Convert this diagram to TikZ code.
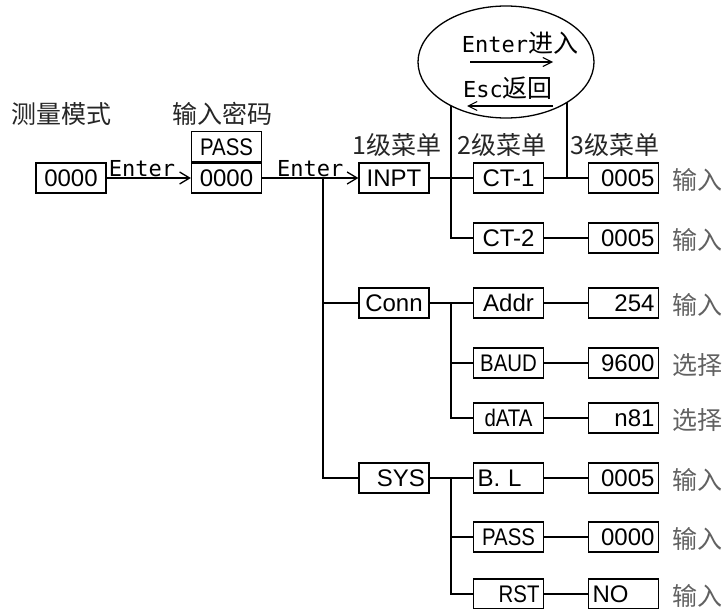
\documentclass[tikz,border=0pt]{standalone}
\usepackage{fontspec}
\setmainfont{Liberation Sans}
\newfontfamily\cjk{Noto Sans CJK SC}
\newfontfamily\monof{DejaVu Sans Mono}
\newfontfamily\boxf{Liberation Sans}
\newfontfamily\boxn[FakeStretch=0.85]{Liberation Sans}
\usetikzlibrary{arrows.meta,shapes.geometric}
\tikzset{
  bx/.style={draw, line width=1.3pt, text width=62pt, inner xsep=4pt, inner ysep=6.4pt,
    text height=17.2pt, text depth=0pt, font=\boxf\fontsize{24}{24}\selectfont},
  narrow/.style={font=\boxn\fontsize{24}{24}\selectfont},
  bxl/.style={bx, align=left},
  bxc/.style={bx, align=center},
  bxr/.style={bx, align=right},
  hdr/.style={font=\cjk\fontsize{25}{27}\selectfont, text=black!85, inner sep=0pt},
  note/.style={font=\cjk\fontsize{25}{27}\selectfont, text=black!62, inner sep=0pt},
  lbl/.style={font=\monof\fontsize{22}{24}\selectfont, inner sep=1pt},
  conn/.style={line width=1.3pt},
  arr/.style={line width=1.3pt, -{Straight Barb[length=10pt,width=12pt,line width=1.3pt]}},
  arrs/.style={line width=1.1pt, -{Straight Barb[length=9pt,width=9pt,line width=1.1pt]}}
}
\begin{document}
\begin{tikzpicture}[x=1pt,y=-1pt]
\useasboundingbox (0,0) rectangle (728,608);

% headers
\node[hdr, anchor=west] (h0) at (11,114) {测量模式};
\node[hdr, anchor=west] (h1) at (172,114) {输入密码};
\node[hdr, anchor=west] (l1) at (352,145) {1级菜单};
\node[hdr, anchor=west] (l2) at (457,145) {2级菜单};
\node[hdr, anchor=west] (l3) at (570,145) {3级菜单};

% left boxes
\node[bxc] (b0) at (71,178) {0000};
\node[bxc] (pw) at (226.5,178) {0000};
\node[bxc, narrow, anchor=south] (ps) at (pw.north) {PASS};

% level 1
\node[bxc] (inpt) at (394,178) {INPT};
\node[bxc] (cn) at (394,303) {Conn};
\node[bxr] (sys) at (394,478) {SYS};

% level 2
\node[bxc] (ct1) at (508.5,178) {CT-1};
\node[bxc] (ct2) at (508.5,238) {CT-2};
\node[bxc] (addr) at (508.5,303) {Addr};
\node[bxc, narrow] (baud) at (508.5,363) {BAUD};
\node[bxc, narrow] (data) at (508.5,418) {dATA};
\node[bxl] (bl) at (508.5,478) {B. L};
\node[bxc, narrow] (pas) at (508.5,537) {PASS};
\node[bxr, narrow] (rst) at (508.5,594) {RST};

% level 3
\node[bxr] (v1) at (623.5,178) {0005};
\node[bxr] (v2) at (623.5,238) {0005};
\node[bxr] (v3) at (623.5,303) {254};
\node[bxr] (v4) at (623.5,363) {9600};
\node[bxr] (v5) at (623.5,418) {n81};
\node[bxr] (v6) at (623.5,478) {0005};
\node[bxr] (v7) at (623.5,537) {0000};
\node[bxl] (v8) at (623.5,594) {NO};

% right notes
\node[note] (n1) at (697,180) {输入};
\node[note] (n2) at (697,240) {输入};
\node[note] (n3) at (697,305) {输入};
\node[note] (n4) at (697,365) {选择};
\node[note] (n5) at (697,420) {选择};
\node[note] (n6) at (697,480) {输入};
\node[note] (n7) at (697,539) {输入};
\node[note] (n8) at (697,596) {输入};

% arrows from left
\draw[arr] (b0.east) -- node[lbl, above, pos=0.42] {Enter} (pw.west);
\draw[arr] (pw.east) -- node[lbl, above] {Enter} (inpt.west);

% trunk
\coordinate (t0) at (323,178);
\draw[conn] (t0) |- (cn.west);
\draw[conn] (t0) |- (sys.west);

% level1 -> level2
\coordinate (e1) at (451,62);
\coordinate (e2) at (567,62);
\coordinate (e2b) at (567,178);
\draw[conn] (inpt.east) -- (ct1.west);
\draw[conn] (e1) |- (ct2.west);
\draw[conn] (cn.east) -- (addr.west);
\coordinate (j2) at (451,303);
\draw[conn] (j2) |- (baud.west);
\draw[conn] (j2) |- (data.west);
\draw[conn] (sys.east) -- (bl.west);
\coordinate (j3) at (451,478);
\draw[conn] (j3) |- (pas.west);
\draw[conn] (j3) |- (rst.west);

% level2 -> level3
\draw[conn] (ct1.east) -- (v1.west);
\draw[conn] (e2) -- (e2b);
\draw[conn] (ct2.east) -- (v2.west);
\draw[conn] (addr.east) -- (v3.west);
\draw[conn] (baud.east) -- (v4.west);
\draw[conn] (data.east) -- (v5.west);
\draw[conn] (bl.east) -- (v6.west);
\draw[conn] (pas.east) -- (v7.west);
\draw[conn] (rst.east) -- (v8.west);

% ellipse
\node[ellipse, draw, fill=white, line width=1.3pt, minimum width=176pt, minimum height=112pt, inner sep=0pt] (ell) at (506,62) {};
\node[inner sep=0pt] (ent) at (520,43) {\monof\fontsize{22}{24}\selectfont Enter\cjk\fontsize{25}{27}\selectfont 进入};
\node[inner sep=0pt] (esc) at (508,88) {\monof\fontsize{22}{24}\selectfont Esc\cjk\fontsize{25}{27}\selectfont 返回};
\coordinate (a1) at (470,62);
\coordinate (a2) at (553,62);
\coordinate (a3) at (553,106);
\coordinate (a4) at (467,106);
\draw[arrs] (a1) -- (a2);
\draw[arrs] (a3) -- (a4);
\end{tikzpicture}
\end{document}
